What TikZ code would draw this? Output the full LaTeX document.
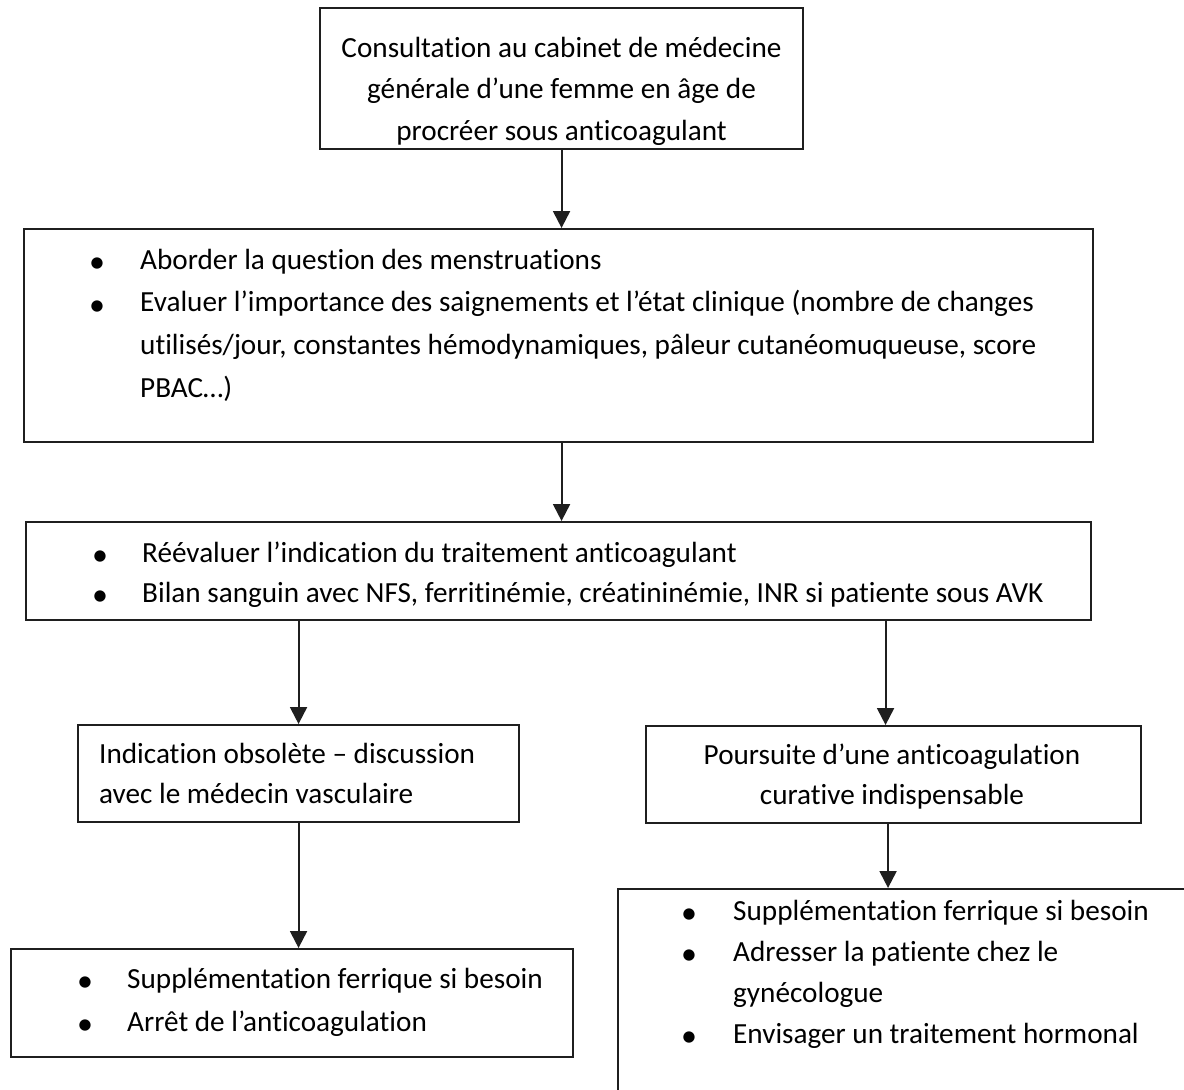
\documentclass[tikz,border=0pt]{standalone}
\usepackage{fontspec}
\setmainfont{Carlito}[Ligatures={NoCommon}]
\usetikzlibrary{arrows.meta,calc}
\newcommand{\bbul}[1]{\makebox[0pt]{\raisebox{-3.5pt}{\fontsize{32}{32}\selectfont\char"2022}}\hspace{#1}}
\newcommand{\bind}[1]{\hspace{#1}}
\tikzset{
  box/.style={draw=black!88, line width=2.1pt, inner sep=0pt, anchor=north west},
  txt/.style={inner sep=0pt, anchor=base west, text=black},
  ctxt/.style={inner sep=0pt, anchor=base, text=black},
  arr/.style={draw=black!88, line width=2.1pt, -{Triangle[width=17pt,length=17pt]}},
}
\begin{document}
\begin{tikzpicture}[x=1pt,y=-1pt]
\useasboundingbox (0,0) rectangle (1184,1090);
\clip (0,0) rectangle (1184,1090);
% boxes
\node[box, minimum width=483pt, minimum height=141pt] (b1) at (319,7) {};
\node[box, minimum width=1069pt, minimum height=213pt] (b2) at (23,228) {};
\node[box, minimum width=1065pt, minimum height=98pt] (b3) at (25,521) {};
\node[box, minimum width=441pt, minimum height=97pt] (b4) at (77,724) {};
\node[box, minimum width=495pt, minimum height=97pt] (b5) at (645,725) {};
\node[box, minimum width=562pt, minimum height=108pt] (b6) at (10,948) {};
\node[box, minimum width=583pt, minimum height=240pt] (b7) at (617,888) {};
% texts
\node[ctxt, font=\fontsize{29.2}{41.5}\selectfont] (t1) at (561.5,57) {\begin{tabular}[t]{@{}c@{}}
Consultation au cabinet de médecine\\
générale d’une femme en âge de\\
procréer sous anticoagulant
\end{tabular}};
\node[txt, font=\fontsize{29.2}{42.7}\selectfont] (t2) at (97,269) {\begin{tabular}[t]{@{}l@{}}
\bbul{43pt}Aborder la question des menstruations\\
\bbul{43pt}Evaluer l’importance des saignements et l’état clinique (nombre de changes\\
\bind{43pt}utilisés/jour, constantes hémodynamiques, pâleur cutanéomuqueuse, score\\
\bind{43pt}PBAC…)
\end{tabular}};
\node[txt, font=\fontsize{29.2}{40}\selectfont] (t3) at (100,562) {\begin{tabular}[t]{@{}l@{}}
\bbul{42pt}Réévaluer l’indication du traitement anticoagulant\\
\bbul{42pt}Bilan sanguin avec NFS, ferritinémie, créatininémie, INR si patiente sous AVK
\end{tabular}};
\node[txt, font=\fontsize{29.2}{40}\selectfont] (t4) at (99,763) {\begin{tabular}[t]{@{}l@{}}
Indication obsolète – discussion\\
avec le médecin vasculaire
\end{tabular}};
\node[ctxt, font=\fontsize{29.2}{40}\selectfont] (t5) at (892,764) {\begin{tabular}[t]{@{}c@{}}
Poursuite d’une anticoagulation\\
curative indispensable
\end{tabular}};
\node[txt, font=\fontsize{29.2}{43}\selectfont] (t6) at (85,988) {\begin{tabular}[t]{@{}l@{}}
\bbul{42pt}Supplémentation ferrique si besoin\\
\bbul{42pt}Arrêt de l’anticoagulation
\end{tabular}};
\node[txt, font=\fontsize{29.2}{41}\selectfont] (t7) at (689,920) {\begin{tabular}[t]{@{}l@{}}
\bbul{44pt}Supplémentation ferrique si besoin\\
\bbul{44pt}Adresser la patiente chez le\\
\bind{44pt}gynécologue\\
\bbul{44pt}Envisager un traitement hormonal
\end{tabular}};
% connectors
\coordinate (c5) at ([xshift=-8pt]b5.north);
\coordinate (c7) at ([xshift=-5.5pt]b5.south);
\draw[arr] (b1.south) -- (b1.south |- b2.north);
\draw[arr] (b2.south -| b1.south) -- (b3.north -| b1.south);
\draw[arr] (b3.south -| b4.north) -- (b4.north);
\draw[arr] (b3.south -| c5) -- (c5);
\draw[arr] (b4.south) -- (b4.south |- b6.north);
\draw[arr] (c7) -- (c7 |- b7.north);
\end{tikzpicture}
\end{document}
